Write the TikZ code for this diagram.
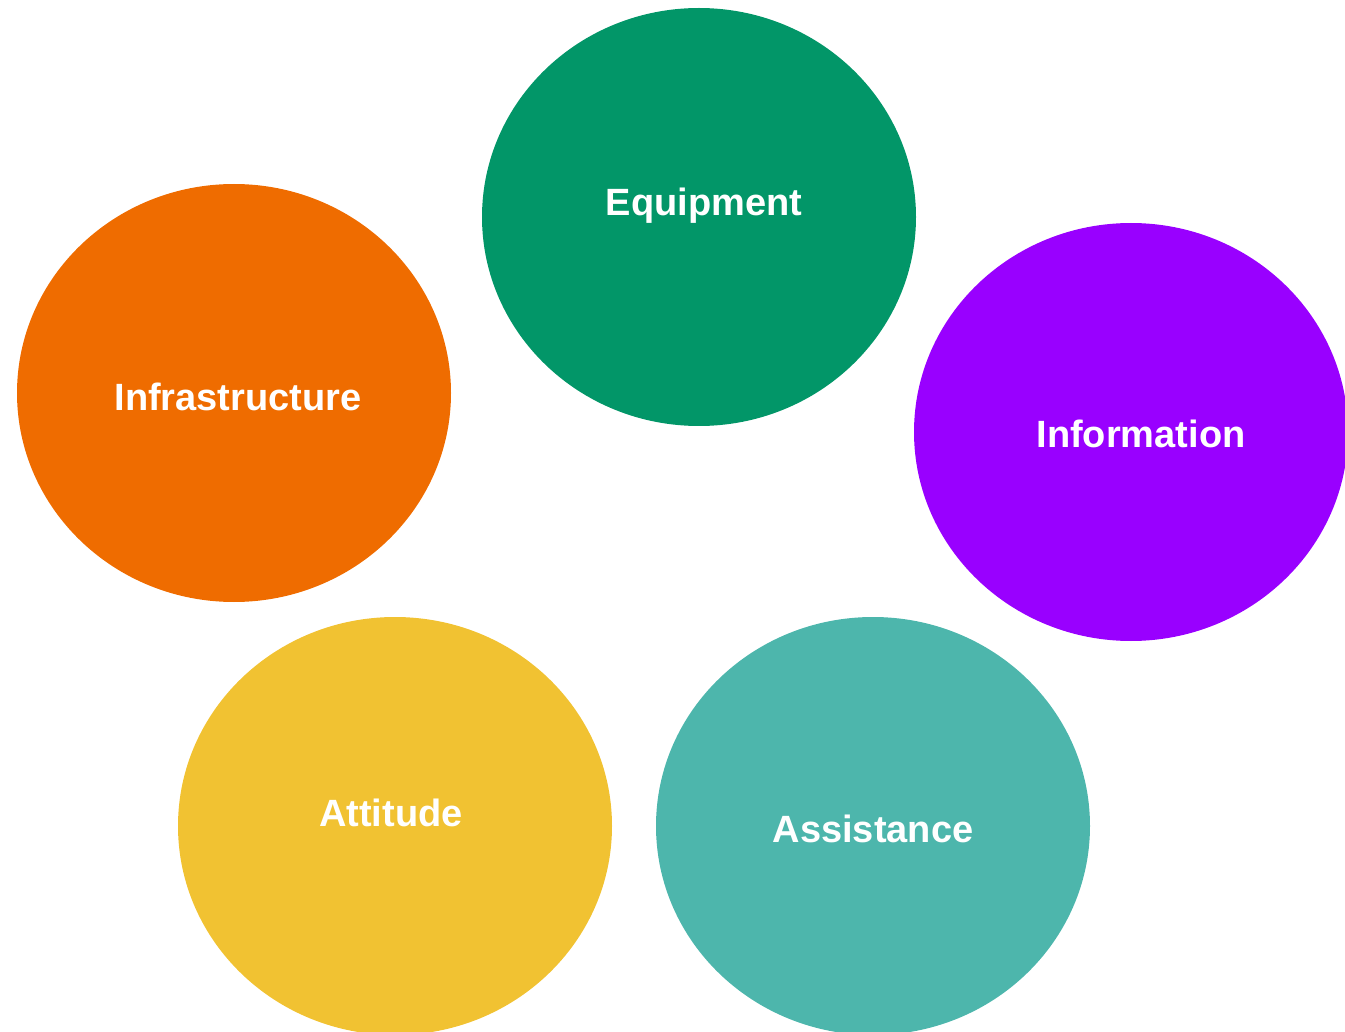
\documentclass[tikz,border=0pt]{standalone}
\usepackage{fontspec}
\setmainfont{Liberation Sans}
\usetikzlibrary{shapes.geometric}
\definecolor{cEquip}{HTML}{029668}
\definecolor{cInfra}{HTML}{EF6C00}
\definecolor{cInfo}{HTML}{9900FF}
\definecolor{cAtt}{HTML}{F1C232}
\definecolor{cAssist}{HTML}{4DB6AC}
\tikzset{
  blob/.style={ellipse, draw=none, inner sep=0pt, minimum width=434pt, minimum height=418pt},
  lbl/.style={text=white, font=\bfseries\fontsize{38}{44}\selectfont, inner sep=0pt, anchor=center}
}
\begin{document}
\begin{tikzpicture}[x=1pt,y=-1pt]
\useasboundingbox (0,0) rectangle (1345,1032);
\begin{scope}
\clip (0,0) rectangle (1345,1032);
\node[blob, fill=cEquip] (eq) at (699,217) {};
\node[blob, fill=cInfra] (inf) at (234,393) {};
\node[blob, fill=cInfo] (info) at (1131,432) {};
\node[blob, fill=cAtt] (att) at (395,826) {};
\node[blob, fill=cAssist] (ass) at (873,826) {};
\end{scope}
\node[lbl] (teq) at (704,206) {Equipment};
\node[lbl] (tinf) at (238,397) {Infrastructure};
\node[lbl] (tinfo) at (1141,434) {Information};
\node[lbl] (tatt) at (391,813) {Attitude};
\node[lbl] (tass) at (873,829) {Assistance};
\end{tikzpicture}
\end{document}
